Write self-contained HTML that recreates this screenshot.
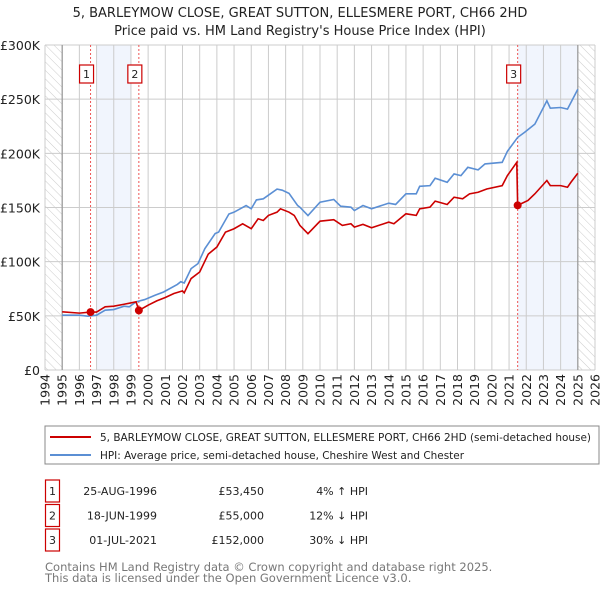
<!DOCTYPE html>
<html><head><meta charset="utf-8"><style>
body{margin:0;background:#fff;font-family:"DejaVu Sans","Liberation Sans",sans-serif;}
svg text{font-family:"DejaVu Sans","Liberation Sans",sans-serif;}
</style></head><body>
<svg id="chart" width="600" height="590" xmlns="http://www.w3.org/2000/svg">
<defs><pattern id="hatch" width="6" height="6" patternUnits="userSpaceOnUse" patternTransform="rotate(-45)"><line x1="0" y1="0" x2="0" y2="6" stroke="#ccc" stroke-width="1"/></pattern></defs>
<text x="300" y="17" text-anchor="middle" font-size="13" fill="#222">5, BARLEYMOW CLOSE, GREAT SUTTON, ELLESMERE PORT, CH66 2HD</text>
<text x="300" y="35" text-anchor="middle" font-size="13" fill="#222">Price paid vs. HM Land Registry's House Price Index (HPI)</text>
<g id="plot"></g>
<rect x="45" y="426" width="554" height="38" fill="#fff" stroke="#888"/>
<line x1="50" y1="437" x2="91" y2="437" stroke="#cc0000" stroke-width="2"/>
<text x="100" y="441" font-size="11" fill="#222" textLength="491" lengthAdjust="spacingAndGlyphs">5, BARLEYMOW CLOSE, GREAT SUTTON, ELLESMERE PORT, CH66 2HD (semi-detached house)</text>
<line x1="50" y1="455" x2="91" y2="455" stroke="#5b8fd4" stroke-width="2"/>
<text x="100" y="459" font-size="11" fill="#222" textLength="364" lengthAdjust="spacingAndGlyphs">HPI: Average price, semi-detached house, Cheshire West and Chester</text>
<g id="table" font-size="11" fill="#222"></g>
<text x="45" y="571" font-size="11.5" fill="#777">Contains HM Land Registry data © Crown copyright and database right 2025.</text>
<text x="45" y="582" font-size="11.5" fill="#777">This data is licensed under the Open Government Licence v3.0.</text>
</svg>
<script>
const hpiYears=[1995,1996,1996.5,1997,1997.5,1998,1998.6,1998.9,1999.3,1999.8,2000.4,2000.9,2001.7,2001.9,2002.1,2002.5,2002.9,2003.3,2003.9,2004.1,2004.7,2005,2005.7,2006,2006.3,2006.7,2007.5,2007.8,2008.2,2008.7,2008.83,2009.3,2010,2010.8,2011.2,2011.8,2012,2012.5,2013,2014,2014.4,2015,2015.6,2015.8,2016.4,2016.7,2017.4,2017.8,2018.2,2018.6,2019.2,2019.6,2020.6,2020.9,2021.5,2021.9,2022.5,2023.2,2023.4,2024,2024.4,2024.6,2025];
const hpiValues=[50.6,50.6,49.7,50.6,55.2,55.8,58.9,58.3,62.9,65,69,72,79,81.5,80.3,93.6,98.2,112,126,127.3,144,145.7,151.8,148.8,157,158,167,166,163,151.8,150.3,142.6,154.9,157.4,151.2,150.3,147.2,151.8,148.8,154,152.8,162.6,162.6,169.6,170.2,177,173.3,181,179.4,187.1,184.7,190.2,191.7,201.8,214.7,219.3,227,248.5,241.7,242.3,240.8,246.9,259.2];
const priceYears=[1995,1996,1996.65,1997,1997.5,1998,1998.6,1999.3,1999.46,2000,2000.5,2001,2001.5,2002,2002.1,2002.5,2003,2003.5,2004,2004.5,2005,2005.5,2006,2006.4,2006.7,2007,2007.5,2007.7,2008.2,2008.5,2008.83,2009.3,2010,2010.8,2011.3,2011.8,2012,2012.5,2013,2014,2014.3,2015,2015.6,2015.8,2016.4,2016.7,2017.4,2017.8,2018.3,2018.7,2019.2,2019.7,2020.6,2020.9,2021.45,2021.5,2022.1,2022.5,2023.2,2023.4,2024,2024.4,2024.6,2025];
const priceValues=[53.7,52.5,53.45,53.5,58.3,58.9,60.7,62.9,55,59.8,63.8,66.9,70.6,73,71.2,84.4,90.5,107,113.5,127.3,130.4,135,130.4,139.6,138,142.7,145.7,148.8,145.7,142.7,133.5,125.8,137.4,138.7,133.5,135,131.9,134.4,131.3,136.5,135,144.2,142.7,148.8,150.3,155.9,152.8,159.5,158,162.6,164.1,167.1,170.2,179.4,191.7,152,156.5,162.6,174.9,170.2,170.2,168.7,173.3,181.6];
const saleYears=[1996.65,1999.46,2021.5];
const saleValues=[53.45,55,152];
const saleLabels=["1","2","3"];
const saleDates=["25-AUG-1996","18-JUN-1999","01-JUL-2021"];
const salePrices=["£53,450","£55,000","£152,000"];
const saleDiffs=["4% ↑ HPI","12% ↓ HPI","30% ↓ HPI"];
const yTicks=[0,50,100,150,200,250,300];
const yTickLabels=["£0","£50K","£100K","£150K","£200K","£250K","£300K"];
const xTicks=[1994,1995,1996,1997,1998,1999,2000,2001,2002,2003,2004,2005,2006,2007,2008,2009,2010,2011,2012,2013,2014,2015,2016,2017,2018,2019,2020,2021,2022,2023,2024,2025,2026];
const shadeRanges=[[1997,1999],[2021.5,2025]];
const hatchRanges=[[1994,1995],[2025,2026]];

const NS="http://www.w3.org/2000/svg";
const X0=45,X1=595,Y0=370,Y1=45;
const xs=y=>X0+(y-1994)/(2026-1994)*(X1-X0);
const ys=v=>Y0-v/300*(Y0-Y1);
const plot=document.getElementById('plot');
function mk(tag,attrs,parent){const e=document.createElementNS(NS,tag);for(const k in attrs)e.setAttribute(k,attrs[k]);(parent||plot).appendChild(e);return e;}

shadeRanges.forEach(r=>{const e=mk('rect',{x:xs(r[0]),y:Y1,width:xs(r[1])-xs(r[0]),height:Y0-Y1,fill:'#eef3fc',opacity:0.8});

});
hatchRanges.forEach(r=>{const e=mk('rect',{x:xs(r[0]),y:Y1,width:xs(r[1])-xs(r[0]),height:Y0-Y1,fill:'url(#hatch)'});

});
xTicks.forEach(t=>{const l=mk('line',{x1:xs(t),x2:xs(t),y1:Y1,y2:Y0,stroke:'#ccc','stroke-width':1});


const tx=mk('text',{x:0,y:0,transform:`translate(${xs(t)+4.5},${Y0+4}) rotate(-90)`,'text-anchor':'end','font-size':12.5,fill:'#222'});
tx.textContent=t;

});
yTicks.forEach((t,i)=>{const l=mk('line',{x1:X0,x2:X1,y1:ys(t),y2:ys(t),stroke:'#ccc','stroke-width':1});


const tx=mk('text',{x:40,y:ys(t)+5,'text-anchor':'end','font-size':12.5,fill:'#222'});
tx.textContent=yTickLabels[i];

});
[1995,2025].forEach(t=>{const l=mk('line',{x1:xs(t),x2:xs(t),y1:Y1,y2:Y0,stroke:'#999','stroke-width':1.2});

});
saleYears.forEach((y,i)=>{const l=mk('line',{x1:xs(y),x2:xs(y),y1:Y1,y2:Y0,stroke:'#e55','stroke-width':1,'stroke-dasharray':'2,2'});


const b=mk('rect',{x:xs(y)-11,y:65,width:14,height:18,fill:'#fff',stroke:'#cc0000','stroke-width':1.2});


const t=mk('text',{x:xs(y)-4,y:78,'text-anchor':'middle','font-size':11,fill:'#222'});
t.textContent=saleLabels[i];

});
const hp=mk('polyline',{points:hpiYears.map((y,i)=>xs(y)+','+ys(hpiValues[i])).join(' '),fill:'none',stroke:'#5b8fd4','stroke-width':1.6});


const pp=mk('polyline',{points:priceYears.map((y,i)=>xs(y)+','+ys(priceValues[i])).join(' '),fill:'none',stroke:'#cc0000','stroke-width':1.6});


saleYears.forEach((y,i)=>{const c=mk('circle',{cx:xs(y),cy:ys(saleValues[i]),r:4,fill:'#cc0000'});

});

const tbl=document.getElementById('table');
saleLabels.forEach((s,i)=>{const yy=491+i*24.5;
const b=mk('rect',{x:45.5,y:yy-11,width:14,height:22,fill:'#fff',stroke:'#cc0000','stroke-width':1.2},tbl);


const cells=[[52.5,'middle',s],[157,'end',saleDates[i]],[264,'end',salePrices[i]],[368,'end',saleDiffs[i]]];
cells.forEach((c,j)=>{const t=mk('text',{x:c[0],y:yy+4,'text-anchor':c[1],'font-size':11,fill:'#222'},tbl);
t.textContent=c[2];

});});
</script>
</body></html>
